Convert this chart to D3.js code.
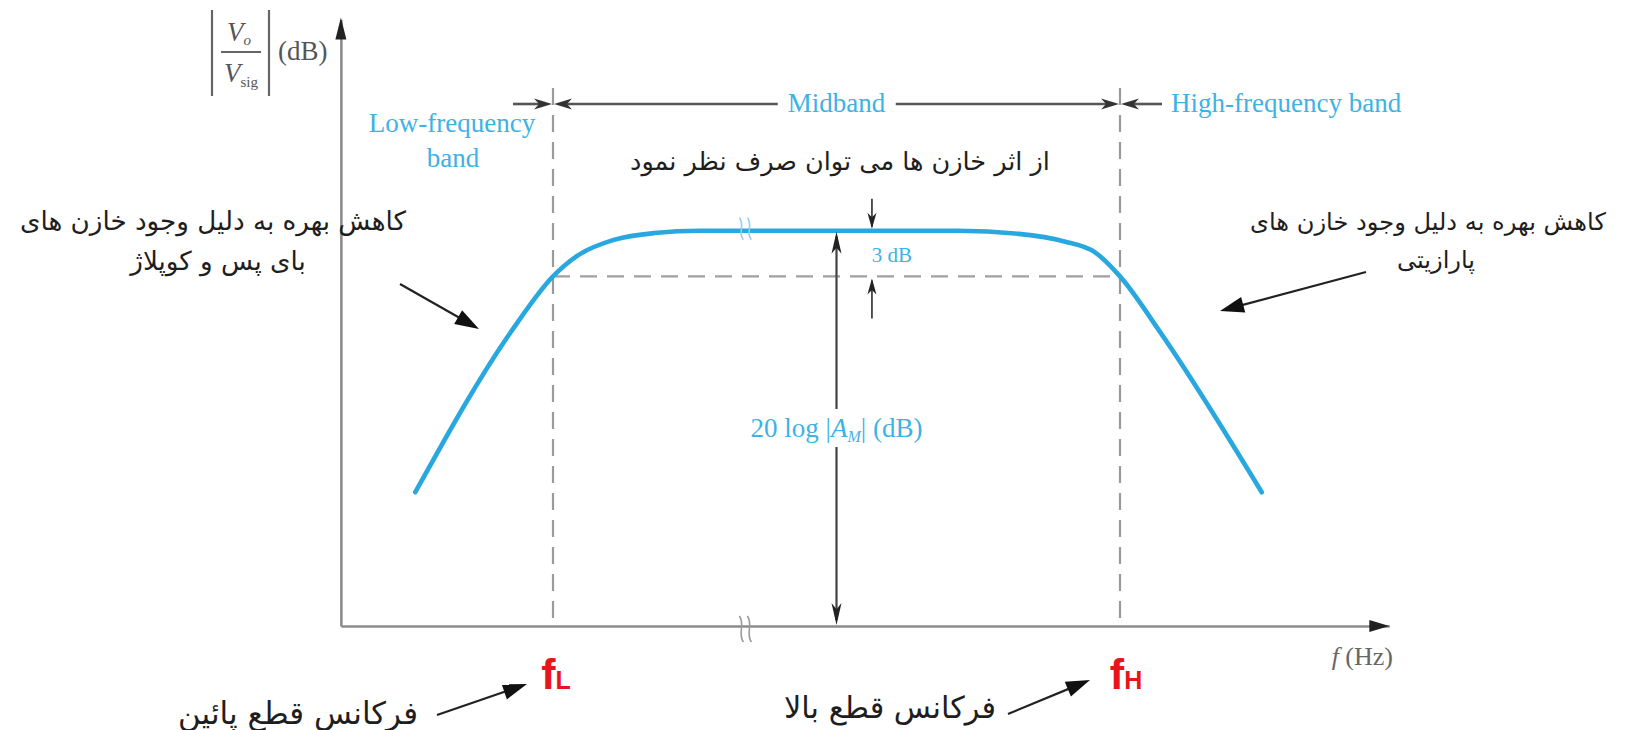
<!DOCTYPE html>
<html>
<head>
<meta charset="utf-8">
<script src="https://cdn.jsdelivr.net/npm/d3@7"></script>
<style>
  html, body { margin: 0; background: #ffffff; }
  svg { display: block; }
</style>
</head>
<body>
<svg id="chart" width="1628" height="730"></svg>
<script>
// Amplifier gain vs. frequency: points along the response curve
// (frequency in relative log-frequency units, gain in dB)
const curveFreq = [6.4, 16.0, 20.0, 22.5, 26.0, 30.0, 34.5, 60.0, 66.0, 70.5, 73.5, 76.0, 80.0, 90.0];
const curveGain = [8.8, 19.5, 23.0, 24.4, 25.4, 25.85, 26.0, 26.0, 25.8, 25.3, 24.6, 23.0, 19.3, 8.8];

// Corner frequencies and midband level
const cornerNames = ["L", "H"];
const cornerFreq = [20, 76];
const midbandGain = 26;   // 20 log |A_M|
const cornerDrop = 3;     // dB below midband at fL and fH

// Where the broken-scale marks and the dimension arrows sit
const breakFreq = 39;
const gainArrowFreq = 48;
const dropArrowFreq = 51.5;

// Text
const bandLabels = ["Low-frequency", "band", "Midband", "High-frequency band"];
const noteTop = "از اثر خازن ها می توان صرف نظر نمود";
const noteLow = ["کاهش بهره به دلیل وجود خازن های", "بای پس و کوپلاژ"];
const noteHigh = ["کاهش بهره به دلیل وجود خازن های", "پارازیتی"];
const cornerNotes = ["فرکانس قطع پائین", "فرکانس قطع بالا"];

const BLUE = "#29a8df";
const BLUE_TEXT = "#3db2e4";
const GREY = "#8c8c8c";
const SERIF = "'Liberation Serif', 'Times New Roman', serif";
const FA = "'DejaVu Sans', sans-serif";

const svg = d3.select("#chart");

const x = d3.scaleLinear().domain([0, 100]).range([350.5, 1363]);
const y = d3.scaleLinear().domain([0, 40]).range([626, 18]);

const xAxisEnd = 102.6, xAxisStart = -0.95, yAxisTop = 39.9;

// ---------- helpers ----------
function arrowHead(g, tx, ty, angleDeg, len, half, fill) {
  g.append("path")
    .attr("d", `M0,0 L${-len},${-half} L${-len * 0.72},0 L${-len},${half} Z`)
    .attr("transform", `translate(${tx},${ty}) rotate(${angleDeg})`)
    .attr("fill", fill);
}
function solidHead(g, tx, ty, angleDeg, len, half, fill) {
  g.append("path")
    .attr("d", `M0,0 L${-len},${-half} L${-len},${half} Z`)
    .attr("transform", `translate(${tx},${ty}) rotate(${angleDeg})`)
    .attr("fill", fill);
}
function fitWidth(sel, width) {
  const w = sel.node().getComputedTextLength();
  const fs = parseFloat(sel.attr("font-size"));
  const nfs = fs * width / w;
  sel.attr("font-size", nfs.toFixed(2));
  return nfs;
}
function pointer(x1, y1, x2, y2) {
  const a = Math.atan2(y2 - y1, x2 - x1);
  svg.append("line").attr("x1", x1).attr("y1", y1)
    .attr("x2", x2 - 14 * Math.cos(a))
    .attr("y2", y2 - 14 * Math.sin(a))
    .attr("stroke", "#222").attr("stroke-width", 2.2);
  solidHead(svg, x2, y2, a * 180 / Math.PI, 24, 8, "#111");
}

// ---------- axes ----------
const xAxisScale = d3.scaleLinear().domain([xAxisStart, xAxisEnd]).range([x(xAxisStart), x(xAxisEnd)]);
const yAxisScale = d3.scaleLinear().domain([0, yAxisTop]).range([y(0), y(yAxisTop)]);

const gX = svg.append("g").attr("transform", `translate(0,${y(0)})`)
  .call(d3.axisBottom(xAxisScale).tickValues([]).tickSizeOuter(0));
gX.select(".domain").attr("stroke", GREY).attr("stroke-width", 2.6);

const gY = svg.append("g").attr("transform", `translate(${x(xAxisStart)},0)`)
  .call(d3.axisLeft(yAxisScale).tickValues([]).tickSizeOuter(0));
gY.select(".domain").attr("stroke", GREY).attr("stroke-width", 2.6);

solidHead(svg, x(xAxisEnd), y(0), 0, 20, 6, "#222");
solidHead(svg, x(xAxisStart), y(yAxisTop) - 2, -90, 22, 5.5, "#222");

// ---------- corner-frequency guides ----------
const guideTop = 88;
cornerFreq.forEach(f => {
  svg.append("line")
    .attr("x1", x(f)).attr("x2", x(f))
    .attr("y1", guideTop).attr("y2", y(0))
    .attr("stroke", "#9a9a9a").attr("stroke-width", 2.2)
    .attr("stroke-dasharray", "17,10");
});
svg.append("line")
  .attr("x1", x(cornerFreq[0])).attr("x2", x(cornerFreq[1]))
  .attr("y1", y(midbandGain - cornerDrop)).attr("y2", y(midbandGain - cornerDrop))
  .attr("stroke", "#a0a0a0").attr("stroke-width", 2.2)
  .attr("stroke-dasharray", "17,10");

// ---------- band dimension line ----------
const bandY = 104;
const dimColor = "#555";
const bandG = svg.append("g");
const midText = svg.append("text")
  .attr("x", x((cornerFreq[0] + cornerFreq[1]) / 2)).attr("y", bandY + 8)
  .attr("text-anchor", "middle").attr("font-family", SERIF).attr("font-size", 27)
  .attr("fill", BLUE_TEXT).text(bandLabels[2]);
const mb = midText.node().getBBox();
bandG.append("line").attr("x1", x(cornerFreq[0]) + 10).attr("x2", mb.x - 10)
  .attr("y1", bandY).attr("y2", bandY).attr("stroke", dimColor).attr("stroke-width", 2.6);
bandG.append("line").attr("x1", mb.x + mb.width + 10).attr("x2", x(cornerFreq[1]) - 10)
  .attr("y1", bandY).attr("y2", bandY).attr("stroke", dimColor).attr("stroke-width", 2.6);
arrowHead(bandG, x(cornerFreq[0]) + 1, bandY, 180, 18, 5.5, "#333");
arrowHead(bandG, x(cornerFreq[1]) - 1, bandY, 0, 18, 5.5, "#333");
bandG.append("line").attr("x1", x(cornerFreq[0]) - 40).attr("x2", x(cornerFreq[0]) - 10)
  .attr("y1", bandY).attr("y2", bandY).attr("stroke", dimColor).attr("stroke-width", 2.6);
arrowHead(bandG, x(cornerFreq[0]) - 1, bandY, 0, 18, 5.5, "#333");
bandG.append("line").attr("x1", x(cornerFreq[1]) + 10).attr("x2", x(cornerFreq[1]) + 42)
  .attr("y1", bandY).attr("y2", bandY).attr("stroke", dimColor).attr("stroke-width", 2.6);
arrowHead(bandG, x(cornerFreq[1]) + 1, bandY, 180, 18, 5.5, "#333");

svg.append("text").attr("x", 452).attr("y", 132)
  .attr("text-anchor", "middle").attr("font-family", SERIF).attr("font-size", 27)
  .attr("fill", BLUE_TEXT).text(bandLabels[0]);
svg.append("text").attr("x", 453).attr("y", 167)
  .attr("text-anchor", "middle").attr("font-family", SERIF).attr("font-size", 27)
  .attr("fill", BLUE_TEXT).text(bandLabels[1]);
svg.append("text").attr("x", x(cornerFreq[1]) + 51).attr("y", bandY + 8)
  .attr("text-anchor", "start").attr("font-family", SERIF).attr("font-size", 27)
  .attr("fill", BLUE_TEXT).text(bandLabels[3]);

// ---------- response curve ----------
const pts = curveFreq.map((f, i) => [f, curveGain[i]]);
const line = d3.line().x(d => x(d[0])).y(d => y(d[1])).curve(d3.curveMonotoneX);
svg.append("path").datum(pts)
  .attr("d", line).attr("fill", "none")
  .attr("stroke", BLUE).attr("stroke-width", 4.6)
  .attr("stroke-linecap", "round").attr("stroke-linejoin", "round");

// broken-scale marks on the curve and on the frequency axis
function breakMark(cx, cy, color, h) {
  const g = svg.append("g").attr("transform", `translate(${cx},${cy})`);
  [-4, 4].forEach(dx => {
    g.append("path")
      .attr("d", `M${dx - 2},${-h} C${dx + 4},${-h * 0.4} ${dx - 4},${h * 0.4} ${dx + 2},${h}`)
      .attr("fill", "none").attr("stroke", color).attr("stroke-width", 1.6);
  });
}
breakMark(x(breakFreq), y(midbandGain) - 2, "#8fd0ee", 11);
breakMark(x(breakFreq), y(0) + 3, "#9a9a9a", 13);

// ---------- midband gain arrow ----------
const gx0 = x(gainArrowFreq);
svg.append("line").attr("x1", gx0).attr("x2", gx0)
  .attr("y1", y(midbandGain) + 6).attr("y2", y(0) - 6)
  .attr("stroke", "#444").attr("stroke-width", 2.2);
arrowHead(svg, gx0, y(midbandGain) + 1, -90, 22, 5, "#222");
arrowHead(svg, gx0, y(0) - 1, 90, 22, 5, "#222");

const gainLabel = svg.append("text").attr("x", gx0).attr("y", 437)
  .attr("text-anchor", "middle").attr("font-family", SERIF).attr("font-size", 27)
  .attr("fill", BLUE_TEXT);
gainLabel.append("tspan").text("20 log |");
gainLabel.append("tspan").attr("font-style", "italic").text("A");
gainLabel.append("tspan").attr("font-style", "italic").attr("font-size", 16).attr("dy", 5).text("M");
gainLabel.append("tspan").attr("dy", -5).text("| (dB)");
const gb = gainLabel.node().getBBox();
svg.append("rect")
  .attr("x", gx0 - 6).attr("y", gb.y - 4).attr("width", 12).attr("height", gb.height + 6)
  .attr("fill", "#fff");
gainLabel.raise();

// ---------- 3 dB arrows ----------
const dx0 = x(dropArrowFreq);
svg.append("line").attr("x1", dx0).attr("x2", dx0)
  .attr("y1", y(midbandGain) - 32).attr("y2", y(midbandGain) - 4)
  .attr("stroke", "#444").attr("stroke-width", 1.8);
arrowHead(svg, dx0, y(midbandGain) - 2, 90, 16, 4.5, "#222");
svg.append("line").attr("x1", dx0).attr("x2", dx0)
  .attr("y1", y(midbandGain - cornerDrop) + 42).attr("y2", y(midbandGain - cornerDrop) + 4)
  .attr("stroke", "#444").attr("stroke-width", 1.8);
arrowHead(svg, dx0, y(midbandGain - cornerDrop) + 2, -90, 16, 4.5, "#222");
svg.append("text").attr("x", dx0 + 20).attr("y", (y(midbandGain) + y(midbandGain - cornerDrop)) / 2 + 8)
  .attr("text-anchor", "middle").attr("font-family", SERIF).attr("font-size", 21)
  .attr("fill", BLUE_TEXT).text(cornerDrop + " dB");

// ---------- axis titles ----------
const yl = svg.append("g").attr("fill", "#555").attr("font-family", SERIF);
yl.append("line").attr("x1", 212).attr("x2", 212).attr("y1", 10).attr("y2", 96)
  .attr("stroke", "#666").attr("stroke-width", 2.2);
yl.append("line").attr("x1", 269).attr("x2", 269).attr("y1", 10).attr("y2", 96)
  .attr("stroke", "#666").attr("stroke-width", 2.2);
yl.append("line").attr("x1", 221).attr("x2", 261).attr("y1", 52).attr("y2", 52)
  .attr("stroke", "#666").attr("stroke-width", 1.8);
const num = yl.append("text").attr("x", 239).attr("y", 41).attr("text-anchor", "middle")
  .attr("font-size", 27).attr("font-style", "italic");
num.append("tspan").text("V");
num.append("tspan").attr("font-size", 15).attr("dy", 4).text("o");
const den = yl.append("text").attr("x", 241).attr("y", 82).attr("text-anchor", "middle")
  .attr("font-size", 27).attr("font-style", "italic");
den.append("tspan").text("V");
den.append("tspan").attr("font-size", 15).attr("dy", 5).attr("font-style", "normal").text("sig");
yl.append("text").attr("x", 278).attr("y", 60).attr("font-size", 27).text("(dB)");

const xt = svg.append("text").attr("x", 1393).attr("y", 665).attr("text-anchor", "end")
  .attr("font-family", SERIF).attr("font-size", 26).attr("fill", "#666");
xt.append("tspan").attr("font-style", "italic").text("f");
xt.append("tspan").text(" (Hz)");

// ---------- corner labels fL, fH ----------
cornerFreq.forEach((f, i) => {
  const t = svg.append("text").attr("x", x(f) + (i ? 6 : 3)).attr("y", 689)
    .attr("text-anchor", "middle")
    .attr("font-family", "'Liberation Sans', Arial, sans-serif")
    .attr("font-weight", "bold").attr("fill", "#e8151b");
  t.append("tspan").attr("font-size", 43).text("f");
  t.append("tspan").attr("font-size", 25).text(cornerNames[i]);
});

// ---------- Persian notes ----------
const topNote = svg.append("text").attr("x", 840).attr("y", 170).attr("text-anchor", "middle")
  .attr("font-family", FA).attr("font-size", 24).attr("fill", "#1e1e1e").text(noteTop);
fitWidth(topNote, 420);

const l1 = svg.append("text").attr("x", 213).attr("y", 230).attr("text-anchor", "middle")
  .attr("font-family", FA).attr("font-size", 24).attr("fill", "#1e1e1e").text(noteLow[0]);
const fsLow = fitWidth(l1, 386);
svg.append("text").attr("x", 218).attr("y", 270).attr("text-anchor", "middle")
  .attr("font-family", FA).attr("font-size", fsLow).attr("fill", "#1e1e1e").text(noteLow[1]);

const r1 = svg.append("text").attr("x", 1428).attr("y", 230).attr("text-anchor", "middle")
  .attr("font-family", FA).attr("font-size", 24).attr("fill", "#1e1e1e").text(noteHigh[0]);
const fsHigh = fitWidth(r1, 356);
svg.append("text").attr("x", 1436).attr("y", 268).attr("text-anchor", "middle")
  .attr("font-family", FA).attr("font-size", fsHigh).attr("fill", "#1e1e1e").text(noteHigh[1]);

const b1 = svg.append("text").attr("x", 298).attr("y", 724).attr("text-anchor", "middle")
  .attr("font-family", FA).attr("font-size", 24).attr("fill", "#1e1e1e").text(cornerNotes[0]);
fitWidth(b1, 240);
const b2 = svg.append("text").attr("x", 890).attr("y", 718).attr("text-anchor", "middle")
  .attr("font-family", FA).attr("font-size", 24).attr("fill", "#1e1e1e").text(cornerNotes[1]);
fitWidth(b2, 212);

// ---------- annotation pointers ----------
pointer(400, 284, 479, 329);
pointer(1366, 272, 1220, 311);
pointer(437, 715, 527, 684);
pointer(1008, 714, 1090, 680);
</script>
</body>
</html>
